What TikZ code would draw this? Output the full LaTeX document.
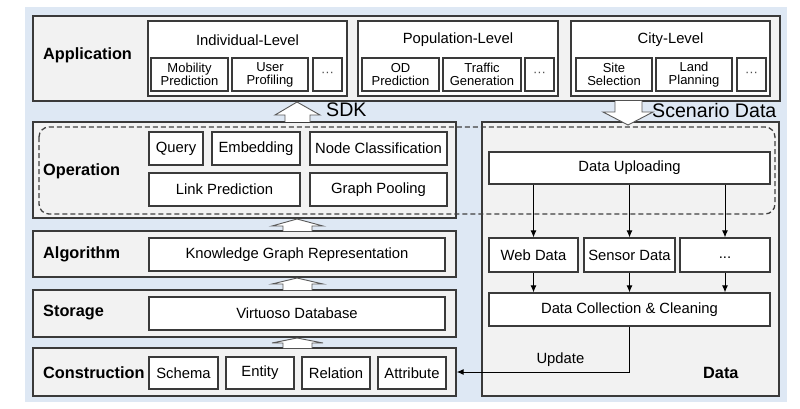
\documentclass[tikz,border=0pt]{standalone}
\usepackage{fontspec}
\setmainfont{Liberation Sans}
\usepackage{tikz}
\usetikzlibrary{arrows.meta}
\definecolor{bgblue}{HTML}{DEE8F4}
\definecolor{layergray}{HTML}{F2F2F2}
\definecolor{edgegray}{HTML}{3A3A3A}

\begin{document}
\begin{tikzpicture}[x=1pt, y=-1pt]
	\tikzstyle{every node} = [inner sep=0pt, font=\fontsize{14.8}{16}\selectfont]
	\tikzstyle{layer} = [draw=edgegray, fill=layergray, line width=1.4pt]
	\tikzstyle{box} = [draw=edgegray, fill=white, line width=1.2pt, align=center]
	\tikzstyle{small} = [font=\fontsize{13}{13}\selectfont]
	\tikzstyle{title} = [anchor=west, font=\bfseries\fontsize{16.3}{18}\selectfont]
	\tikzstyle{big} = [anchor=west, font=\fontsize{19.6}{22}\selectfont]
	\tikzstyle{hollow} = [draw=black!65, fill=white, line width=0.9pt]
	\tikzstyle{arr} = [-{Latex[length=7pt, width=6pt]}, draw=black, line width=1pt]
	\useasboundingbox (0,0) rectangle (800,409);
	\fill[bgblue] (25,7) rectangle (787,402);
	% layers
	\node[layer, minimum width=747pt, minimum height=85pt] (app) at (406.5, 58.5) {};
	\node[layer, minimum width=423pt, minimum height=96pt] (op) at (244.5, 170) {};
	\node[layer, minimum width=423pt, minimum height=46pt] (alg) at (244.5, 254) {};
	\node[layer, minimum width=423pt, minimum height=47pt] (sto) at (244.5, 313.5) {};
	\node[layer, minimum width=423pt, minimum height=48pt] (con) at (244.5, 372) {};
	\node[layer, minimum width=297pt, minimum height=274pt] (data) at (630.5, 259) {};
	\node[title] (appl) at (43, 55) {Application};
	\node[title] (opl) at (43, 171) {Operation};
	\node[title] (algl) at (43, 254) {Algorithm};
	\node[title] (stol) at (43, 313) {Storage};
	\node[title] (conl) at (43, 373) {Construction};
	\node[title] (datal) at (703, 373) {Data};
	% application
	\node[box, minimum width=199pt, minimum height=75pt] (ind) at (247.5, 58.5) {};
	\node[box, minimum width=200pt, minimum height=75pt] (pop) at (458, 58.5) {};
	\node[box, minimum width=199pt, minimum height=75pt] (city) at (670.5, 58.5) {};
	\node (indt) at (247.5, 40) {Individual-Level};
	\node (popt) at (458, 40) {Population-Level};
	\node (cityt) at (670.5, 40) {City-Level};
	\node[box, small, minimum width=77pt, minimum height=33pt] (mob) at (189.5, 74.5) {Mobility\\Prediction};
	\node[box, small, minimum width=76pt, minimum height=33pt] (usr) at (270, 74.5) {User\\Profiling};
	\node[box, small, minimum width=29pt, minimum height=33pt, text=black!70] (dotsa) at (327.5, 74.5) {···};
	\node[box, small, minimum width=77pt, minimum height=33pt] (od) at (400.5, 74.5) {OD\\Prediction};
	\node[box, small, minimum width=78pt, minimum height=33pt] (traf) at (482, 74.5) {Traffic\\Generation};
	\node[box, small, minimum width=29pt, minimum height=33pt, text=black!70] (dotsb) at (539.5, 74.5) {···};
	\node[box, small, minimum width=76pt, minimum height=33pt] (site) at (614, 74.5) {Site\\Selection};
	\node[box, small, minimum width=76pt, minimum height=33pt] (land) at (694, 74.5) {Land\\Planning};
	\node[box, small, minimum width=29pt, minimum height=33pt, text=black!70] (dotsc) at (751.5, 74.5) {···};
	% operation
	\node[box, minimum width=54pt, minimum height=33pt] (query) at (176, 148.5) {Query};
	\node[box, minimum width=88pt, minimum height=33pt] (emb) at (256, 148.5) {Embedding};
	\node[box, minimum width=137pt, minimum height=33pt] (nodec) at (378.5, 148.5) {Node Classification};
	\node[box, minimum width=151pt, minimum height=33pt] (link) at (224.5, 189.5) {Link Prediction};
	\node[box, minimum width=137pt, minimum height=33pt] (pool) at (378.5, 189.5) {Graph Pooling};
	% algorithm, storage, construction
	\node[box, minimum width=296pt, minimum height=33pt] (kgr) at (297, 254.5) {Knowledge Graph Representation};
	\node[box, minimum width=296pt, minimum height=33pt] (vdb) at (297, 313.5) {Virtuoso Database};
	\node[box, minimum width=69pt, minimum height=32pt] (schema) at (183.5, 373) {Schema};
	\node[box, minimum width=68pt, minimum height=32pt] (entity) at (260, 373) {Entity};
	\node[box, minimum width=68pt, minimum height=32pt] (rel) at (336, 373) {Relation};
	\node[box, minimum width=68pt, minimum height=32pt] (attr) at (412, 373) {Attribute};
	% data
	\node[box, minimum width=281pt, minimum height=32pt] (upl) at (629.5, 168) {Data Uploading};
	\node[box, minimum width=89pt, minimum height=34pt] (web) at (533.5, 255) {Web Data};
	\node[box, minimum width=91pt, minimum height=34pt] (sensor) at (629.5, 255) {Sensor Data};
	\node[box, minimum width=90pt, minimum height=34pt] (more) at (725, 255) {\strut...};
	\node[box, minimum width=281pt, minimum height=33pt] (clean) at (629.5, 309.5) {Data Collection \& Cleaning};
	\draw[draw=black!75, line width=1.3pt, dash pattern=on 5pt off 3pt, rounded corners=10pt] (39,127) rectangle (775,214);
	\draw[arr] (upl.south -| web.north) -- (web.north);
	\draw[arr] (upl.south -| sensor.north) -- (sensor.north);
	\draw[arr] (upl.south -| more.north) -- (more.north);
	\draw[arr] (web.south) -- (clean.north -| web.south);
	\draw[arr] (sensor.south) -- (clean.north -| sensor.south);
	\draw[arr] (more.south) -- (clean.north -| more.south);
	\draw[arr] (clean.south) |- (con.east) node[pos=0.7, above=5pt] {Update};
	% block arrows
	\draw[hollow] (285,122) -- (285,115) -- (275,115) -- (297,102) -- (320,115) -- (310,115) -- (310,122);
	\node[big] (sdk) at (326, 110) {SDK};
	\draw[hollow] (615,101) -- (615,112) -- (603,112) -- (628,125) -- (653,112) -- (642,112) -- (642,101);
	\node[big] (scen) at (652, 110) {Scenario Data};
	\draw[hollow] (283,231) -- (283,226) -- (272,226) -- (297,219) -- (323,226) -- (312,226) -- (312,231);
	\draw[hollow] (283,290) -- (283,284) -- (272,284) -- (297,278) -- (323,284) -- (312,284) -- (312,290);
	\draw[hollow] (283,348) -- (283,343) -- (272,343) -- (297,338) -- (323,343) -- (312,343) -- (312,348);
\end{tikzpicture}
\end{document}
